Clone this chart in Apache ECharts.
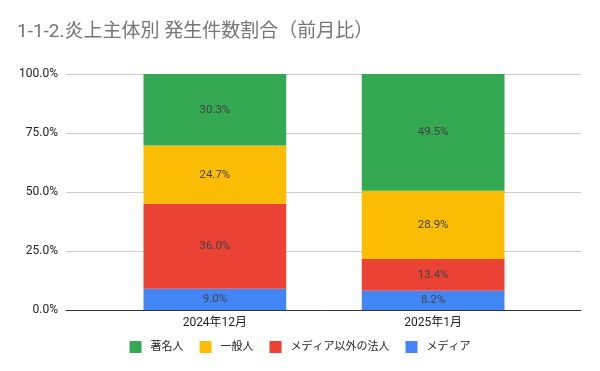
<!DOCTYPE html>
<html><head><meta charset="utf-8">
<script src="https://cdn.jsdelivr.net/npm/echarts@6/dist/echarts.min.js"></script>
<style>html,body{margin:0;padding:0;background:#fff}#c{width:600px;height:371px}</style>
</head><body><div id="c"></div>
<script>
const categories = ['2024年12月', '2025年1月'];
const media = [9.0, 8.2];
const corp = [36.0, 13.4];
const general = [24.7, 28.9];
const celeb = [30.3, 49.5];
const seriesNames = ['メディア', 'メディア以外の法人', '一般人', '著名人'];
const legendOrder = ['著名人', '一般人', 'メディア以外の法人', 'メディア'];
const yTicks = [0, 25, 50, 75, 100];

const colors = { 'メディア': '#4285f4', 'メディア以外の法人': '#ea4335', '一般人': '#fbbc04', '著名人': '#34a853' };
const values = { 'メディア': media, 'メディア以外の法人': corp, '一般人': general, '著名人': celeb };
const FONT = 'Roboto, "Noto Sans CJK JP", sans-serif';

const chart = echarts.init(document.getElementById('c'), null, { renderer: 'canvas' });
chart.setOption({
  animation: false,
  textStyle: { fontFamily: FONT },
  title: {
    text: '1-1-2.炎上主体別 発生件数割合（前月比）',
    left: 12, top: 18,
    textStyle: { fontFamily: FONT, fontSize: 19, fontWeight: 'normal', color: '#757575' }
  },
  legend: {
    data: legendOrder,
    bottom: 13, left: 'center',
    icon: 'rect', itemWidth: 12, itemHeight: 12, itemGap: 16,
    textStyle: { fontFamily: FONT, fontSize: 11, color: '#222', padding: [0, 0, 0, 4] }
  },
  grid: [
    { left: 66, right: 19, top: 74, bottom: 61 },
    { left: 105.75, right: 57.75, top: 74, bottom: 61 }
  ],
  xAxis: [
    { gridIndex: 0, type: 'category', data: [''], axisLine: { lineStyle: { color: '#333', width: 1 } },
      axisTick: { show: false }, axisLabel: { show: false } },
    { gridIndex: 1, type: 'category', data: categories, axisLine: { show: false },
      axisTick: { show: false },
      axisLabel: { color: '#222', fontSize: 12, margin: 7, fontFamily: FONT } }
  ],
  yAxis: [
    { gridIndex: 0, type: 'value', min: 0, max: 100, interval: 25,
      axisLine: { show: false }, axisTick: { show: false },
      splitLine: { lineStyle: { color: '#cccccc' } },
      axisLabel: { color: '#222', fontSize: 12, margin: 8, fontFamily: FONT,
        formatter: v => yTicks.includes(v) ? v.toFixed(1) + '%' : '' } },
    { gridIndex: 1, type: 'value', min: 0, max: 100, show: false, splitLine: { show: false } }
  ],
  series: seriesNames.map(n => ({
    name: n, type: 'bar', stack: 'total', xAxisIndex: 1, yAxisIndex: 1,
    barWidth: '65.4%',
    itemStyle: { color: colors[n] },
    label: { show: true, position: 'inside', color: '#444', fontSize: 11.5, fontFamily: FONT,
      formatter: p => p.value.toFixed(1) + '%' },
    data: values[n]
  }))
});
</script></body></html>
